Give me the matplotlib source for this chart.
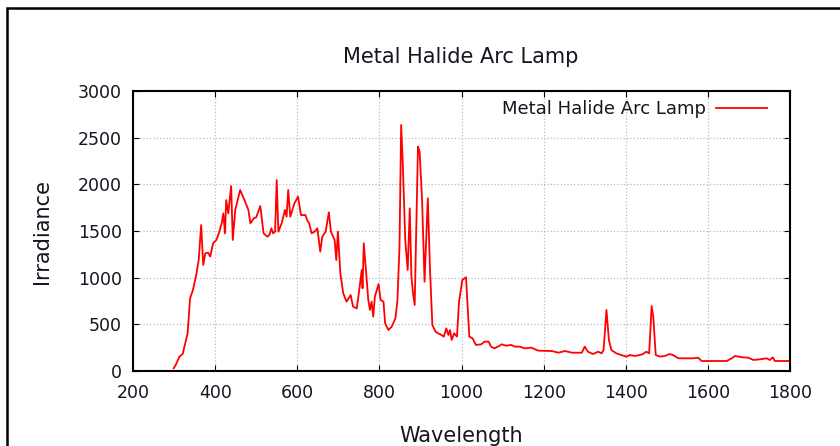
import matplotlib.pyplot as plt
import matplotlib.patches as mpatches

# wavelength (nm) and irradiance
wavelength = [299, 304, 313, 321, 329, 333, 339, 346, 354, 360, 366, 371, 376, 383, 388,
              395, 403, 409, 416, 420, 424, 427, 432, 439, 443, 449, 461, 473, 481, 486,
              494, 500, 510, 518, 527, 532, 537, 541, 546, 550, 554, 562, 570, 574, 578,
              583, 588, 593, 602, 609, 620, 624, 629, 635, 642, 649, 656, 661, 669, 677,
              682, 691, 695, 699, 705, 712, 720, 730, 736, 745, 752, 757, 759, 762, 767,
              773, 777, 781, 785, 789, 798, 803, 810, 814, 822, 830, 839, 844, 849, 853,
              857, 863, 869, 874, 878, 882, 886, 889, 894, 898, 904, 910, 918, 923, 929,
              937, 943, 951, 957, 963, 968, 972, 976, 982, 989, 994, 1002, 1011, 1015, 1019,
              1027, 1035, 1048, 1056, 1066, 1072, 1080, 1089, 1098, 1109, 1121, 1130, 1142, 1154, 1170,
              1187, 1220, 1236, 1252, 1269, 1293, 1300, 1308, 1320, 1333, 1341, 1346, 1353, 1359, 1365,
              1377, 1389, 1402, 1410, 1422, 1434, 1442, 1450, 1457, 1463, 1467, 1473, 1483, 1495, 1507,
              1515, 1528, 1564, 1576, 1585, 1646, 1658, 1666, 1686, 1698, 1711, 1727, 1743, 1751, 1758,
              1763, 1800]
irradiance = [29, 64, 154, 182, 332, 404, 779, 868, 1029, 1189, 1564, 1136, 1261, 1268, 1225,
              1368, 1404, 1475, 1582, 1689, 1475, 1832, 1689, 1982, 1404, 1725, 1939, 1814, 1725, 1582,
              1636, 1646, 1768, 1475, 1439, 1457, 1529, 1475, 1493, 2046, 1493, 1582, 1725, 1653, 1939,
              1653, 1725, 1796, 1868, 1671, 1671, 1618, 1582, 1475, 1493, 1529, 1279, 1439, 1493, 1700,
              1493, 1404, 1189, 1493, 1046, 832, 743, 814, 689, 671, 904, 1082, 886, 1368, 1100,
              761, 654, 743, 582, 796, 932, 761, 743, 511, 439, 475, 564, 761, 1332, 2636,
              2225, 1404, 1082, 1743, 1011, 832, 707, 1332, 2404, 2350, 1832, 957, 1850, 1118, 493,
              421, 404, 386, 368, 457, 386, 439, 332, 404, 368, 743, 975, 1004, 689, 368,
              350, 279, 286, 314, 314, 261, 243, 261, 286, 271, 279, 261, 261, 243, 250,
              218, 214, 196, 214, 196, 196, 261, 207, 182, 207, 189, 225, 654, 332, 225,
              189, 171, 154, 171, 161, 171, 182, 207, 189, 696, 582, 171, 154, 161, 182,
              171, 136, 136, 143, 107, 107, 136, 161, 146, 143, 118, 125, 136, 118, 146,
              107, 107]

x_ticks = [200, 400, 600, 800, 1000, 1200, 1400, 1600, 1800]
y_ticks = [0, 500, 1000, 1500, 2000, 2500, 3000]

W, H = 840, 446
txt = '#151520'

fig = plt.figure(figsize=(8.4, 4.46), dpi=100)
ax = fig.add_axes([133/W, 1 - 371/H, (790-133)/W, (371-91)/H])

# outer black frame (top and left edges visible)
frame = mpatches.Rectangle((7/W, -0.05), 1.2, 1 - 8/H + 0.05, transform=fig.transFigure,
                           fill=False, edgecolor='black', linewidth=1.8)
fig.patches.append(frame)

ax.plot(wavelength, irradiance, color='#ff0000', linewidth=1.3, label='Metal Halide Arc Lamp')

ax.set_xlim(200, 1800)
ax.set_ylim(0, 3000)
ax.set_xticks(x_ticks)
ax.set_yticks(y_ticks)
ax.tick_params(direction='in', top=True, right=True, length=4, labelsize=12.5,
               labelcolor=txt)
ax.tick_params(axis='x', pad=9)
ax.tick_params(axis='y', pad=8)
ax.grid(True, color='#bbbbbb', linestyle=':', linewidth=0.9)
for s in ax.spines.values():
    s.set_linewidth(1.5)

fig.text(461/W, 1 - 63/H, 'Metal Halide Arc Lamp', fontsize=15, color=txt,
         ha='center', va='baseline')
fig.text(461/W, 1 - 442/H, 'Wavelength', fontsize=15, color=txt,
         ha='center', va='baseline')
fig.text(42/W, 1 - 231/H, 'Irradiance', fontsize=15, color=txt,
         ha='center', va='center', rotation=90)

leg = ax.legend(loc='upper right', frameon=False, fontsize=13, handlelength=2.8,
                handletextpad=0.6, borderpad=0, borderaxespad=0, markerfirst=False,
                bbox_to_anchor=(767/W, 1 - 100/H), bbox_transform=fig.transFigure)
for t in leg.get_texts():
    t.set_color(txt)

fig.savefig('out.png', dpi=100)
